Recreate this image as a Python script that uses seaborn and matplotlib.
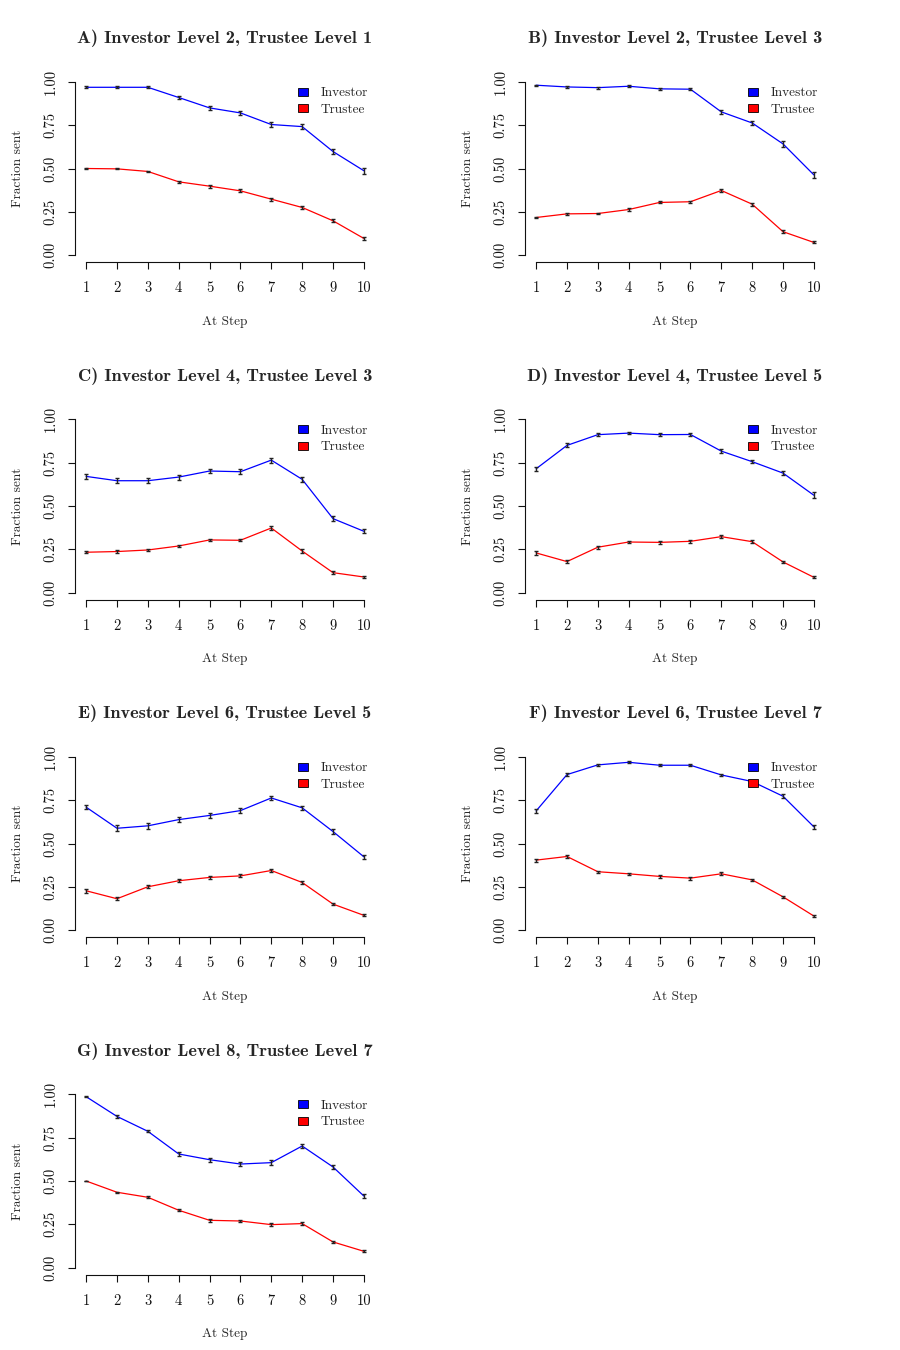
import pandas as pd
import matplotlib
matplotlib.use("Agg")
import matplotlib.pyplot as plt
from matplotlib.patches import Patch
import seaborn as sns

# ---- data (fraction sent per step, with standard errors) ----
steps = [1, 2, 3, 4, 5, 6, 7, 8, 9, 10]

titles = [
    "A) Investor Level 2, Trustee Level 1",
    "B) Investor Level 2, Trustee Level 3",
    "C) Investor Level 4, Trustee Level 3",
    "D) Investor Level 4, Trustee Level 5",
    "E) Investor Level 6, Trustee Level 5",
    "F) Investor Level 6, Trustee Level 7",
    "G) Investor Level 8, Trustee Level 7",
]

investor_mean = [
    [0.969, 0.969, 0.969, 0.910, 0.850, 0.821, 0.754, 0.742, 0.598, 0.487],
    [0.981, 0.971, 0.967, 0.975, 0.960, 0.958, 0.827, 0.763, 0.642, 0.463],
    [0.671, 0.646, 0.646, 0.667, 0.702, 0.698, 0.765, 0.654, 0.427, 0.354],
    [0.715, 0.850, 0.912, 0.921, 0.912, 0.913, 0.817, 0.756, 0.690, 0.562],
    [0.710, 0.588, 0.602, 0.638, 0.662, 0.690, 0.763, 0.706, 0.569, 0.423],
    [0.688, 0.898, 0.954, 0.969, 0.952, 0.952, 0.896, 0.858, 0.773, 0.596],
    [0.987, 0.873, 0.787, 0.656, 0.623, 0.598, 0.606, 0.702, 0.581, 0.413],
]

trustee_mean = [
    [0.500, 0.498, 0.483, 0.423, 0.398, 0.371, 0.323, 0.275, 0.198, 0.096],
    [0.217, 0.238, 0.240, 0.263, 0.304, 0.308, 0.373, 0.294, 0.135, 0.073],
    [0.233, 0.237, 0.246, 0.269, 0.304, 0.302, 0.373, 0.240, 0.115, 0.090],
    [0.229, 0.179, 0.262, 0.292, 0.290, 0.296, 0.323, 0.294, 0.177, 0.088],
    [0.227, 0.181, 0.250, 0.285, 0.304, 0.313, 0.344, 0.275, 0.150, 0.085],
    [0.404, 0.425, 0.337, 0.325, 0.310, 0.300, 0.325, 0.290, 0.192, 0.081],
    [0.500, 0.435, 0.406, 0.331, 0.273, 0.269, 0.248, 0.254, 0.148, 0.094],
]

investor_se = [
    [0.005, 0.005, 0.005, 0.008, 0.010, 0.012, 0.015, 0.015, 0.017, 0.017],
    [0.004, 0.005, 0.006, 0.005, 0.006, 0.006, 0.012, 0.013, 0.015, 0.017],
    [0.015, 0.015, 0.015, 0.014, 0.014, 0.014, 0.015, 0.014, 0.013, 0.012],
    [0.013, 0.012, 0.008, 0.008, 0.008, 0.007, 0.010, 0.010, 0.012, 0.017],
    [0.012, 0.016, 0.016, 0.015, 0.015, 0.015, 0.014, 0.013, 0.013, 0.012],
    [0.013, 0.010, 0.007, 0.005, 0.006, 0.006, 0.007, 0.008, 0.010, 0.012],
    [0.003, 0.007, 0.006, 0.010, 0.012, 0.013, 0.014, 0.013, 0.012, 0.012],
]

trustee_se = [
    [0.003, 0.003, 0.004, 0.007, 0.008, 0.008, 0.008, 0.007, 0.008, 0.008],
    [0.004, 0.005, 0.005, 0.006, 0.006, 0.007, 0.009, 0.009, 0.008, 0.006],
    [0.006, 0.006, 0.006, 0.006, 0.006, 0.006, 0.010, 0.010, 0.007, 0.006],
    [0.010, 0.009, 0.008, 0.008, 0.008, 0.008, 0.009, 0.008, 0.007, 0.005],
    [0.010, 0.008, 0.009, 0.009, 0.008, 0.008, 0.007, 0.008, 0.007, 0.005],
    [0.008, 0.006, 0.006, 0.007, 0.008, 0.009, 0.008, 0.007, 0.007, 0.005],
    [0.002, 0.004, 0.006, 0.006, 0.007, 0.006, 0.008, 0.007, 0.005, 0.005],
]

yticks = [0.0, 0.25, 0.5, 0.75, 1.0]
ytick_labels = ["0.00", "0.25", "0.50", "0.75", "1.00"]
roles = ["Investor", "Trustee"]
palette = {"Investor": "#0000FF", "Trustee": "#FF0000"}

sns.set_style("ticks")
plt.rcParams["font.family"] = ["cmr10", "DejaVu Serif"]
plt.rcParams["axes.formatter.use_mathtext"] = True

FS = 9.6       # axis labels / legend
TICK_FS = 10.5
W, H = 900, 1350
fig = plt.figure(figsize=(9, 13.5), dpi=100)

for i, title in enumerate(titles):
    row, col = divmod(i, 2)
    # R-style plot region: 75px margins inside each 450 x 337.5 cell
    left = (col * 450 + 75) / W
    bottom = 1 - (row * 337.5 + 262) / H
    ax = fig.add_axes([left, bottom, 300 / W, 187 / H])

    df = pd.DataFrame({
        "step": steps * 2,
        "value": investor_mean[i] + trustee_mean[i],
        "role": ["Investor"] * 10 + ["Trustee"] * 10,
    })
    sns.lineplot(data=df, x="step", y="value", hue="role", palette=palette,
                 ax=ax, legend=False, errorbar=None, linewidth=0.9)

    for mean, se in ((investor_mean[i], investor_se[i]), (trustee_mean[i], trustee_se[i])):
        ax.errorbar(steps, mean, yerr=se, fmt="none", ecolor="#222222",
                    elinewidth=1.0, capsize=1.6, capthick=1.0)

    ax.set_xlim(0.64, 10.36)
    ax.set_ylim(-0.04, 1.04)
    ax.set_xticks(steps)
    ax.set_xticklabels([str(s) for s in steps], fontsize=TICK_FS)
    ax.set_yticks(yticks)
    ax.set_yticklabels(ytick_labels, fontsize=TICK_FS, rotation=90, va="center")
    ax.tick_params(axis="x", length=5, width=0.8, pad=9, colors="#111111")
    ax.tick_params(axis="y", length=5, width=0.8, pad=7.5, colors="#111111")

    sns.despine(ax=ax, top=True, right=True)
    ax.spines["left"].set_bounds(0, 1)
    ax.spines["bottom"].set_bounds(1, 10)
    for s in ("left", "bottom"):
        ax.spines[s].set_linewidth(0.8)
        ax.spines[s].set_color("#111111")

    ax.set_xlabel("At Step", fontsize=FS)
    ax.set_ylabel("Fraction sent", fontsize=FS)
    ax.xaxis.label.set_va("center")
    ax.yaxis.label.set_va("center")
    ax.xaxis.set_label_coords(0.5, -0.319)
    ax.yaxis.set_label_coords(-0.19, 0.5)

    ax.text(0.5, 1.196, title, transform=ax.transAxes, ha="center", va="center",
            fontsize=13.2, family=["cmb10", "DejaVu Serif"])

    handles = [Patch(facecolor=palette[r], edgecolor="black", linewidth=0.6, label=r)
               for r in roles]
    ax.legend(handles=handles, loc="upper left", bbox_to_anchor=(0.743, 0.935),
              frameon=False, fontsize=FS, borderpad=0, borderaxespad=0,
              handlelength=0.75, handleheight=0.55, handletextpad=0.95,
              labelspacing=0.33)

fig.savefig("out.png", dpi=100)
plt.close(fig)
